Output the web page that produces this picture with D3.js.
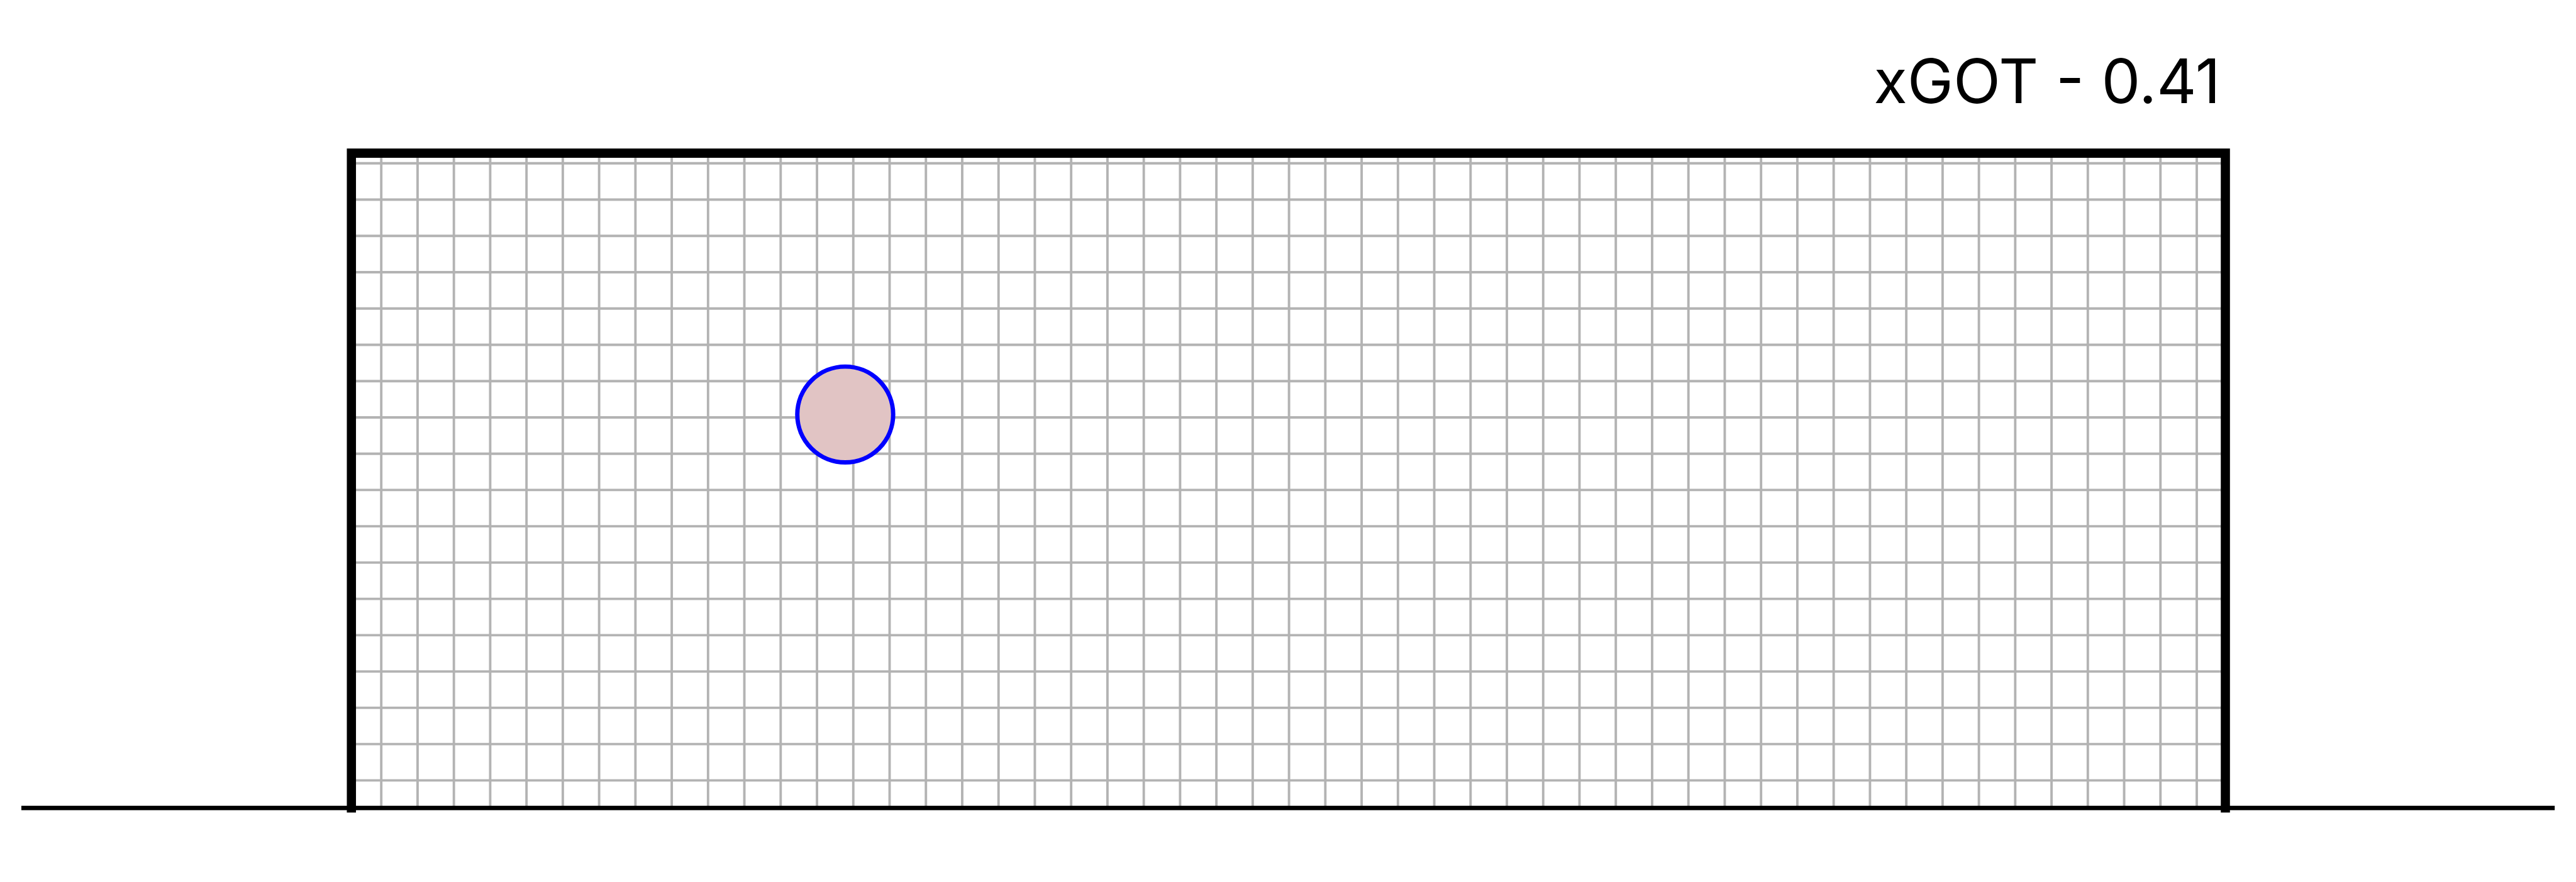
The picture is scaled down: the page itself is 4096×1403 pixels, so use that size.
<!DOCTYPE html>
<html>
<head>
<meta charset="utf-8">
<script src="https://cdn.jsdelivr.net/npm/d3@7"></script>
<style>
  html, body { margin: 0; padding: 0; background: #ffffff; }
  svg { display: block; }
</style>
</head>
<body>
<script>
// ---- data (units: one net cell) ----
const goalPostsX = [0, 51.61];          // left / right post centres
const crossbarY = [18.04];              // crossbar height above ground
const groundX = [-9.09, 60.68];         // ground line extent
const netVertFirst = [0.822];           // first vertical net line
const netVertCount = [51];
const netHorizFirst = [0.76];           // first horizontal net line
const netHorizCount = [18];
const shotX = [13.6];
const shotY = [10.84];
const titleLabel = ["xGOT - 0.41"];

// ---- layout ----
const W = 4096, H = 1403;
const k = W / 5912;

const x = d3.scaleLinear().domain([0, 1]).range([806.5 * k, (806.5 + 83.333) * k]);
const y = d3.scaleLinear().domain([0, 1]).range([1855 * k, (1855 - 83.333) * k]);

const svg = d3.select("body").append("svg")
  .attr("width", W).attr("height", H)
  .attr("viewBox", `0 0 ${W} ${H}`);

const netVert = d3.range(netVertCount[0]).map(i => netVertFirst[0] + i);
const netHoriz = d3.range(netHorizCount[0]).map(i => netHorizFirst[0] + i);

const gridColor = "#b3b3b3";
const gridW = 5.6 * k;

// horizontal net lines
svg.append("g").selectAll("line").data(netHoriz).join("line")
  .attr("x1", x(goalPostsX[0])).attr("x2", x(goalPostsX[1]))
  .attr("y1", d => y(d)).attr("y2", d => y(d))
  .attr("stroke", gridColor).attr("stroke-width", gridW);

// vertical net lines
svg.append("g").selectAll("line").data(netVert).join("line")
  .attr("x1", d => x(d)).attr("x2", d => x(d))
  .attr("y1", y(crossbarY[0])).attr("y2", y(0))
  .attr("stroke", gridColor).attr("stroke-width", gridW);

// ground
svg.append("line")
  .attr("x1", x(groundX[0])).attr("x2", x(groundX[1]))
  .attr("y1", y(0)).attr("y2", y(0))
  .attr("stroke", "#000").attr("stroke-width", 10 * k);

// goal frame
const frame = d3.line().x(d => x(d[0])).y(d => y(d[1]));
svg.append("path")
  .attr("d", frame([[goalPostsX[0], 0], [goalPostsX[0], crossbarY[0]], [goalPostsX[1], crossbarY[0]], [goalPostsX[1], 0]]))
  .attr("fill", "none").attr("stroke", "#000")
  .attr("stroke-width", 21 * k)
  .attr("stroke-linecap", "square").attr("stroke-linejoin", "miter");

// shot
svg.append("g").selectAll("circle").data(shotX.map((d, i) => [d, shotY[i]])).join("circle")
  .attr("cx", d => x(d[0])).attr("cy", d => y(d[1]))
  .attr("r", 110 * k)
  .attr("fill", "#e1c4c4").attr("stroke", "#0000ff").attr("stroke-width", 10 * k);

// title
svg.append("text")
  .attr("x", 5096 * k).attr("y", 237 * k)
  .attr("text-anchor", "end")
  .attr("font-family", "Inter, 'Noto Sans', sans-serif")
  .attr("font-size", 98)
  .attr("fill", "#000")
  .attr("textLength", (5096 - 4300) * k)
  .attr("lengthAdjust", "spacingAndGlyphs")
  .text(titleLabel[0]);
</script>
</body>
</html>
